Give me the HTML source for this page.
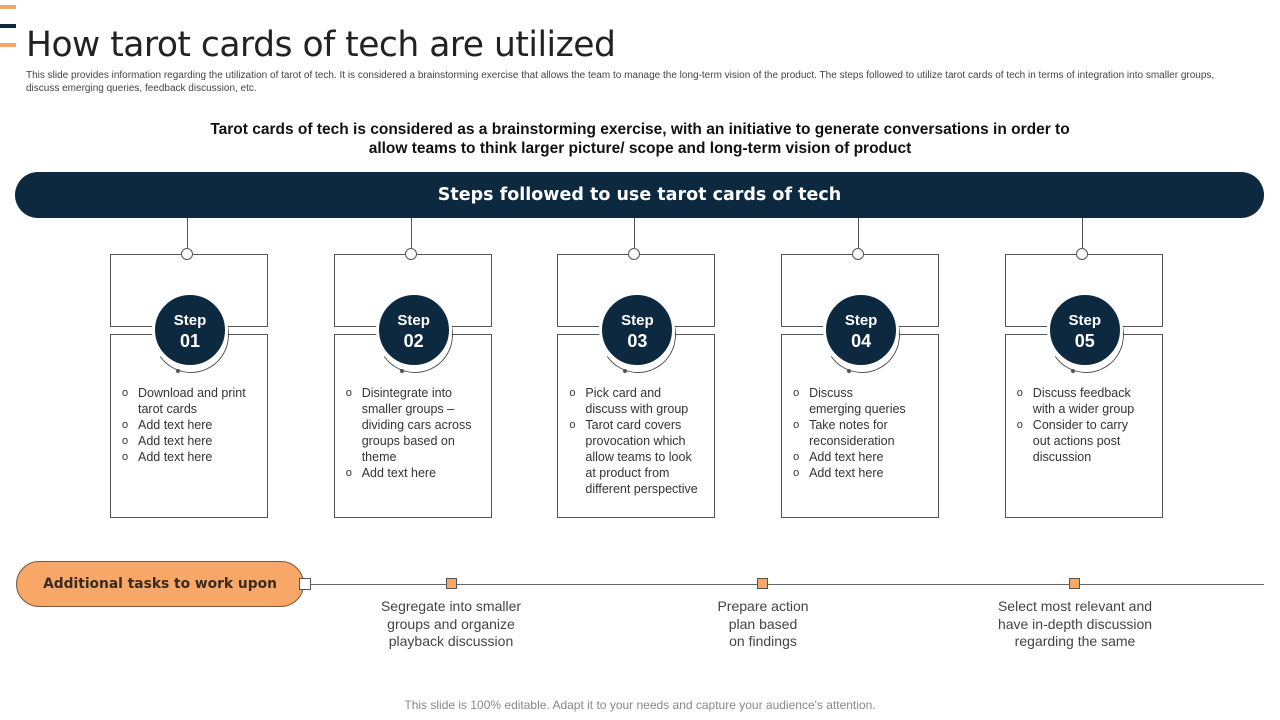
<!DOCTYPE html>
<html><head><meta charset="utf-8"><style>
body{margin:0;width:1280px;height:720px;position:relative;background:#fff;font-family:"Liberation Sans",sans-serif;overflow:hidden}
.a{position:absolute}
.box{position:absolute;border:1px solid #555;background:#fff;box-sizing:border-box}
.circ{position:absolute;border-radius:50%;background:#0d2940;color:#fff;text-align:center;font-weight:bold;box-sizing:border-box;font-size:15px;line-height:18px;border:3px solid #fff}
.circ b{font-size:18px;display:block;margin-top:2px}
.arc{position:absolute;width:76px;height:76px;border-radius:50%;border:1.5px solid transparent;border-bottom-color:#555;border-right-color:#555;transform:rotate(10deg);box-sizing:border-box}
ul{position:absolute;margin:0;padding:0;list-style:none;font-size:12.5px;line-height:16px;color:#333}
li{position:relative;padding-left:16px}
li:before{content:"o";position:absolute;left:0;top:0;font-size:11px}
.task{position:absolute;width:170px;text-align:center;font-size:14px;line-height:17.5px;color:#444}
.sq{position:absolute;width:11px;height:11px;border:1px solid #555;background:#f7a868;box-sizing:border-box}
</style></head><body>
<div class="a" style="left:0;top:5px;width:16px;height:4px;background:#f0a868"></div>
<div class="a" style="left:0;top:24px;width:16px;height:4px;background:#0d2940"></div>
<div class="a" style="left:0;top:43px;width:16px;height:4px;background:#f0a868"></div>
<div class="a" style="left:26px;top:25px;font-size:34.5px;color:#222;font-family:'DejaVu Sans',sans-serif;letter-spacing:-0.5px">How tarot cards of tech are utilized</div>
<div class="a" style="left:26px;top:70px;width:1200px;font-size:10px;line-height:12.5px;color:#444">This slide provides information regarding the utilization of tarot of tech. It is considered a brainstorming exercise that allows the team to manage the long-term vision of the product. The steps followed to utilize tarot cards of tech in terms of integration into smaller groups, discuss emerging queries, feedback discussion, etc.</div>
<div class="a" style="left:195px;top:120px;width:890px;text-align:center;font-size:15.5px;font-weight:bold;line-height:19px;color:#111">Tarot cards of tech is considered as a brainstorming exercise, with an initiative to generate conversations in order to allow teams to think larger picture/ scope and long-term vision of product</div>
<div class="a" style="left:15px;top:172px;width:1249px;height:46px;border-radius:23px;background:#0d2940;color:#fff;text-align:center;line-height:46px;font-size:17.5px;font-weight:bold;font-family:'DejaVu Sans',sans-serif">Steps followed to use tarot cards of tech</div>

<div id="steps"></div>
<script>
var titles=["01","02","03","04","05"];
var widths=[128,130,130,120,130];
var items=[["Download  and print tarot cards","Add text here","Add text here","Add text here"],
["Disintegrate into smaller groups – dividing  cars across groups based on theme","Add text here"],
["Pick card and discuss with group","Tarot  card covers provocation  which allow teams to look at product from different  perspective"],
["Discuss<br>emerging  queries","Take notes for reconsideration","Add text here","Add text here"],
["Discuss feedback with a wider group","Consider  to carry out actions post discussion"]];
var c=document.getElementById('steps');var h='';
for(var i=0;i<5;i++){var x=110+i*223.7;
h+='<div class="a" style="left:'+(x+77)+'px;top:218px;width:1px;height:30px;background:#555"></div>';
h+='<div class="box" style="left:'+x+'px;top:254px;width:158px;height:73px"></div>';
h+='<div class="box" style="left:'+x+'px;top:334px;width:158px;height:184px"></div>';
h+='<div class="a" style="left:'+(x+71)+'px;top:248px;width:12px;height:12px;border-radius:50%;border:1px solid #555;background:#fff;box-sizing:border-box"></div>';
h+='<div class="arc" style="left:'+(x+43)+'px;top:297px"></div>';
h+='<div class="a" style="left:'+(x+66)+'px;top:369px;width:4px;height:4px;border-radius:50%;background:#555"></div>';
h+='<div class="circ" style="left:'+(x+42)+'px;top:292px;width:76px;height:76px;padding-top:17px">Step<b>'+titles[i]+'</b></div>';
var li='';for(var j=0;j<items[i].length;j++)li+='<li>'+items[i][j]+'</li>';
h+='<ul style="left:'+(x+12)+'px;top:385px;width:'+widths[i]+'px">'+li+'</ul>';}
c.innerHTML=h;
</script>

<div class="a" style="left:304px;top:584px;width:960px;height:1px;background:#666"></div>
<div class="a" style="left:16px;top:561px;width:288px;height:46px;border-radius:23px;background:#f7a868;border:1px solid #7a5a40;box-sizing:border-box;text-align:center;line-height:44px;font-weight:bold;font-size:13.8px;color:#3a2a20;font-family:'DejaVu Sans',sans-serif">Additional tasks to work upon</div>
<div class="sq" style="left:299px;top:578px;width:12px;height:12px;background:#fff"></div>
<div class="sq" style="left:446px;top:578px"></div>
<div class="sq" style="left:757px;top:578px"></div>
<div class="sq" style="left:1069px;top:578px"></div>
<div class="task" style="left:366px;top:598px">Segregate into smaller groups and organize playback discussion</div>
<div class="task" style="left:678px;top:598px">Prepare action<br>plan based<br>on findings</div>
<div class="task" style="left:985px;top:598px;width:180px">Select most relevant and have in-depth discussion regarding the same</div>
<div class="a" style="left:0;top:698px;width:1280px;text-align:center;font-size:12px;color:#888">This slide is 100% editable. Adapt it to your needs and capture your audience's attention.</div>
</body></html>
